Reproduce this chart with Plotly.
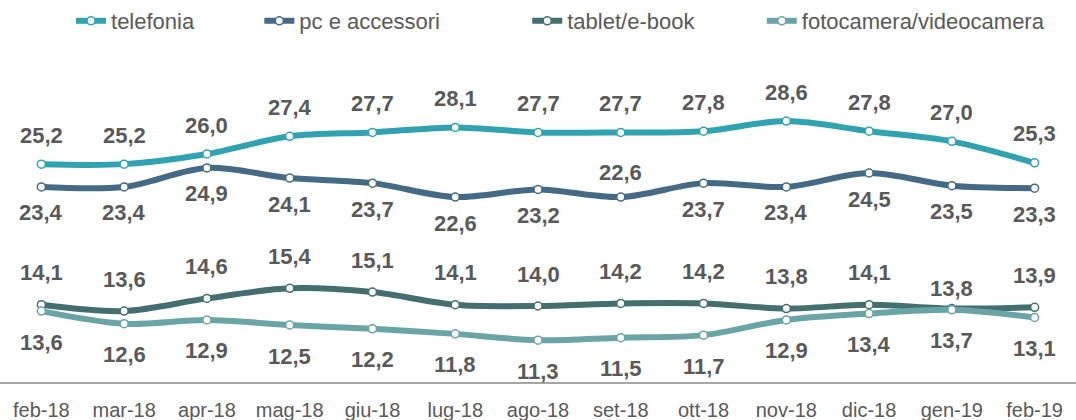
import plotly.graph_objects as go

months = ["feb-18", "mar-18", "apr-18", "mag-18", "giu-18", "lug-18", "ago-18",
          "set-18", "ott-18", "nov-18", "dic-18", "gen-19", "feb-19"]

telefonia = [25.2, 25.2, 26.0, 27.4, 27.7, 28.1, 27.7, 27.7, 27.8, 28.6, 27.8, 27.0, 25.3]
pc_accessori = [23.4, 23.4, 24.9, 24.1, 23.7, 22.6, 23.2, 22.6, 23.7, 23.4, 24.5, 23.5, 23.3]
tablet_ebook = [14.1, 13.6, 14.6, 15.4, 15.1, 14.1, 14.0, 14.2, 14.2, 13.8, 14.1, 13.8, 13.9]
foto_video = [13.6, 12.6, 12.9, 12.5, 12.2, 11.8, 11.3, 11.5, 11.7, 12.9, 13.4, 13.7, 13.1]

# name, values, colour, default label offset (px), per-point offset exceptions, legend slot, legend x
series = [
    ("telefonia", telefonia, "#31A2B0", 29, {}, "legend", 0.066),
    ("pc e accessori", pc_accessori, "#456A85", -26, {7: 25}, "legend2", 0.241),
    ("tablet/e-book", tablet_ebook, "#436F70", 32, {11: 20}, "legend3", 0.490),
    ("fotocamera/videocamera", foto_video, "#6BA4A6", -31, {}, "legend4", 0.708),
]

FONT = "Liberation Sans, Arial"
fig = go.Figure()
annotations = []
legends = {}
for name, vals, color, shift, exceptions, leg, legx in series:
    fig.add_trace(go.Scatter(
        x=months, y=vals, name=name, mode="lines+markers", legend=leg,
        line=dict(color=color, width=6, shape="spline", smoothing=0.9),
        marker=dict(size=8, color="white", line=dict(color=color, width=1.5)),
        hoverinfo="skip",
    ))
    legends[leg] = dict(x=legx, xanchor="left", xref="paper", y=1.0, yref="container",
                        yanchor="top", orientation="h", bgcolor="rgba(0,0,0,0)",
                        font=dict(family=FONT, size=22, color="#595959"))
    for i, (m, v) in enumerate(zip(months, vals)):
        annotations.append(dict(
            x=m, y=v, xref="x", yref="y",
            text=f"{v:.1f}".replace(".", ","),
            showarrow=False, yanchor="middle", xanchor="center",
            yshift=exceptions.get(i, shift),
            font=dict(family=FONT, size=22, color="#595959", weight="bold"),
        ))

fig.update_layout(
    width=1076, height=420,
    margin=dict(l=0, r=0, t=40, b=38, autoexpand=False),
    paper_bgcolor="white", plot_bgcolor="white",
    showlegend=True,
    annotations=annotations,
    xaxis=dict(type="category", range=[-0.5, 12.5], showgrid=False, zeroline=False,
               showline=True, linecolor="#A6A6A6", linewidth=2, ticks="",
               tickfont=dict(family=FONT, size=20, color="#595959"),
               ticklabelstandoff=9, automargin=False, fixedrange=True),
    yaxis=dict(range=[8, 35], visible=False, fixedrange=True),
    **legends,
)

fig.write_html("out.html", config={"displayModeBar": False},
               post_script="document.body.style.margin='0';document.body.style.padding='0';")
